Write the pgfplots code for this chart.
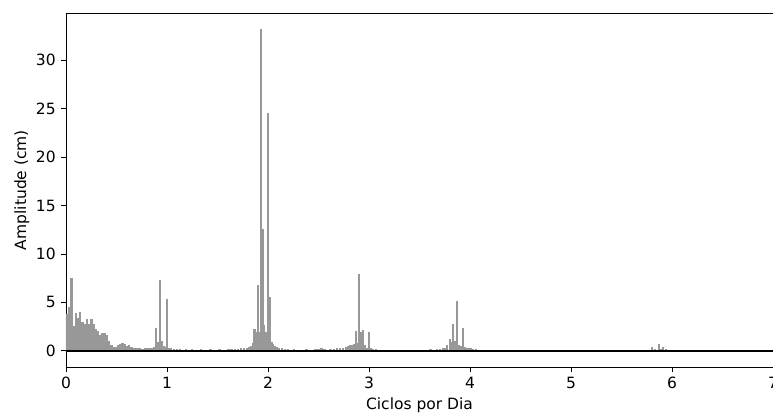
\documentclass[border=0pt]{standalone}
\usepackage{fontspec}
\setmainfont{DejaVu Sans}
\usepackage{pgfplots}
\pgfplotsset{compat=1.18}
\definecolor{bargray}{RGB}{152,152,152}
\pgfplotstableread{
f a
0.000 3.6
0.010 3.8
0.032 4.5
0.054 7.5
0.076 2.6
0.098 3.9
0.120 3.4
0.142 4.0
0.164 3.0
0.186 2.8
0.208 3.3
0.230 2.8
0.252 3.3
0.274 2.8
0.296 2.3
0.318 2.1
0.340 1.6
0.362 1.8
0.384 1.8
0.406 1.6
0.428 1.0
0.450 0.6
0.472 0.45
0.494 0.4
0.516 0.6
0.538 0.75
0.560 0.8
0.582 0.7
0.604 0.5
0.626 0.6
0.648 0.4
0.670 0.35
0.692 0.3
0.714 0.25
0.736 0.3
0.758 0.2
0.780 0.3
0.802 0.25
0.824 0.3
0.846 0.25
0.868 0.4
0.893 2.4
0.912 0.9
0.930 7.3
0.950 1.0
0.968 0.5
0.985 0.4
1.002 5.4
1.020 0.3
1.040 0.25
1.070 0.2
1.100 0.15
1.130 0.2
1.160 0.12
1.190 0.15
1.220 0.1
1.250 0.15
1.280 0.12
1.310 0.1
1.340 0.15
1.370 0.1
1.400 0.12
1.430 0.15
1.460 0.1
1.490 0.12
1.520 0.15
1.550 0.1
1.580 0.12
1.610 0.15
1.640 0.2
1.670 0.15
1.700 0.2
1.730 0.25
1.760 0.3
1.790 0.35
1.810 0.45
1.830 0.55
1.850 0.8
1.866 2.3
1.882 2.0
1.898 6.8
1.913 2.0
1.928 33.2
1.945 12.6
1.960 2.7
1.978 2.0
1.997 24.5
2.017 5.6
2.035 0.9
2.052 0.7
2.070 0.5
2.090 0.4
2.110 0.3
2.140 0.25
2.170 0.2
2.200 0.15
2.230 0.12
2.260 0.15
2.290 0.1
2.320 0.12
2.350 0.1
2.380 0.15
2.410 0.1
2.440 0.12
2.470 0.15
2.500 0.2
2.530 0.25
2.560 0.15
2.590 0.12
2.620 0.15
2.650 0.2
2.680 0.25
2.710 0.3
2.740 0.35
2.770 0.45
2.790 0.55
2.810 0.6
2.830 0.6
2.850 0.7
2.868 2.1
2.884 0.8
2.900 7.9
2.920 2.0
2.940 2.2
2.960 0.6
2.980 0.35
3.003 1.9
3.020 0.25
3.040 0.2
3.070 0.15
3.100 0.12
3.130 0.1
3.160 0.12
3.190 0.1
3.220 0.08
3.250 0.1
3.280 0.12
3.310 0.1
3.340 0.08
3.370 0.1
3.400 0.12
3.430 0.1
3.460 0.08
3.490 0.1
3.520 0.12
3.550 0.1
3.580 0.12
3.610 0.15
3.640 0.12
3.670 0.15
3.700 0.2
3.730 0.25
3.755 0.35
3.775 0.6
3.800 1.2
3.815 0.9
3.832 2.8
3.850 1.0
3.868 5.2
3.888 0.6
3.910 0.5
3.930 2.4
3.950 0.4
3.970 0.35
3.990 0.3
4.010 0.35
4.030 0.2
4.060 0.15
4.100 0.1
4.150 0.08
4.200 0.06
4.250 0.08
4.300 0.05
4.350 0.06
4.400 0.05
4.450 0.06
4.500 0.05
4.550 0.06
4.600 0.05
4.650 0.06
4.700 0.08
4.750 0.06
4.800 0.1
4.850 0.08
4.900 0.06
4.950 0.08
5.000 0.06
5.050 0.05
5.100 0.06
5.150 0.05
5.200 0.06
5.250 0.05
5.300 0.06
5.350 0.05
5.400 0.06
5.450 0.05
5.500 0.06
5.550 0.05
5.600 0.06
5.650 0.08
5.700 0.1
5.750 0.12
5.800 0.4
5.830 0.15
5.870 0.75
5.890 0.2
5.910 0.4
5.940 0.15
5.970 0.1
6.000 0.08
6.050 0.06
6.100 0.05
6.150 0.06
6.200 0.05
6.250 0.06
6.300 0.05
6.350 0.06
6.400 0.05
6.450 0.06
6.500 0.05
6.550 0.06
6.600 0.05
6.650 0.06
6.700 0.08
6.750 0.1
6.800 0.08
6.850 0.1
6.900 0.08
6.950 0.06
7.000 0.06
}\spectrum
\begin{document}
\fontsize{15.5}{18}\selectfont
\begin{tikzpicture}
\begin{axis}[
  width=707pt, height=354pt, scale only axis,
  xmin=0, xmax=7, ymin=-1.66, ymax=34.86,
  xtick={0,1,2,3,4,5,6,7}, ytick={0,5,10,15,20,25,30},
  tick align=outside, xtick pos=left, ytick pos=left,
  major tick length=5pt,
  every tick/.style={black, line width=0.9pt},
  axis line style={line width=0.9pt},
  /pgf/number format/assume math mode=true,
  ticklabel style={font=\fontsize{15.5}{18}\selectfont},
  label style={font=\fontsize{15.5}{18}\selectfont},
  xlabel={Ciclos por Dia}, ylabel={Amplitude (cm)},
  xlabel style={yshift=2pt},
  ylabel style={yshift=-4pt},
]
\addplot[ycomb, bargray, line width=2.3pt, no marks] table[x=f, y=a] {\spectrum};
\addplot[black, line width=2.2pt, no marks] coordinates {(0,0) (7,0)};
\end{axis}
\pgfresetboundingbox
\useasboundingbox ([xshift=-66pt,yshift=-45pt]current axis.south west) rectangle ([yshift=13pt]current axis.north east);
\end{tikzpicture}
\end{document}
